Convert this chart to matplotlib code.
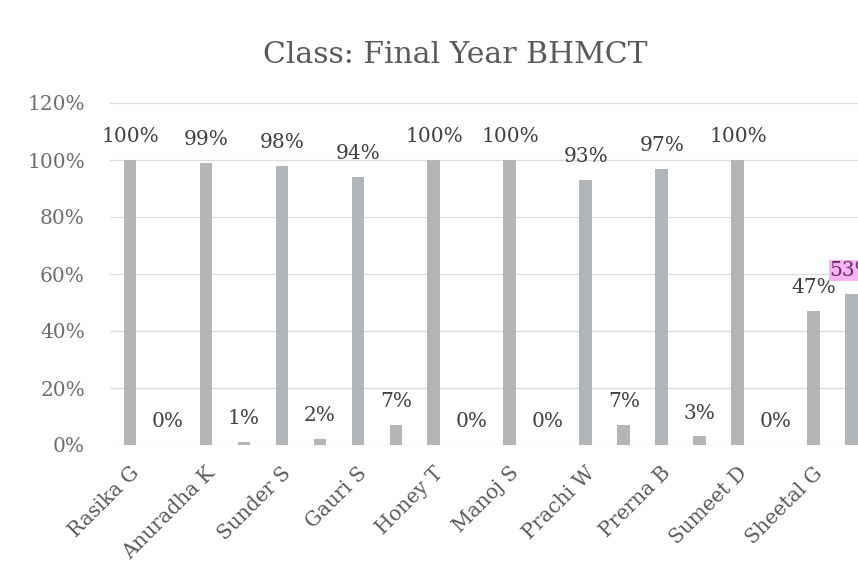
import matplotlib
matplotlib.use("Agg")
import matplotlib.pyplot as plt
import matplotlib.transforms as mtransforms
import numpy as np

# ---- data ----
students = ["Rasika G", "Anuradha K", "Sunder S", "Gauri S", "Honey T",
            "Manoj S", "Prachi W", "Prerna B", "Sumeet D", "Sheetal G"]
series_a = [100, 99, 98, 94, 100, 100, 93, 97, 100, 47]   # first bar of each pair (%)
series_b = [0, 1, 2, 7, 0, 0, 7, 3, 0, 53]                # second bar of each pair (%)
y_ticks = [0, 20, 40, 60, 80, 100, 120]
title = "Class: Final Year BHMCT"
highlight_label = (9, "b")  # label shown with pink highlight

plt.rcParams['font.family'] = ['DejaVu Serif']

W, H = 858, 583
fig = plt.figure(figsize=(W / 100, H / 100), dpi=100)
fig.patch.set_facecolor("white")

ax_left, ax_right, ax_bottom, ax_top = 110, 858, 445, 103
ax = fig.add_axes([ax_left / W, 1 - ax_bottom / H,
                   (ax_right - ax_left) / W, (ax_bottom - ax_top) / H])

x = np.arange(len(students))
off = 0.25
bw = 0.17
bar_color = "#b3b6b9"
ax.bar(x - off, series_a, width=bw, color=bar_color, zorder=3)
ax.bar(x + off, series_b, width=bw, color=bar_color, zorder=3)

ax.set_ylim(0, 120)
ax.set_xlim(-0.513, 9.33)
ax.set_yticks(y_ticks)
ax.set_yticklabels([f"{v}%" for v in y_ticks])
ax.yaxis.grid(True, color="#dcdcdc", lw=0.9, zorder=0)
ax.set_axisbelow(True)
for s in ax.spines.values():
    s.set_visible(False)
ax.tick_params(axis="y", length=0, pad=18, labelsize=14.5, labelcolor="#6e6e6e")

ax.set_xticks(x)
ax.set_xticklabels(students, rotation=45, ha="right", va="center",
                   rotation_mode="anchor", fontsize=14.5, color="#595959")
ax.tick_params(axis="x", length=0, pad=18)
shift = mtransforms.ScaledTranslation(-13 / 100, 0, fig.dpi_scale_trans)
for lbl in ax.get_xticklabels():
    lbl.set_transform(lbl.get_transform() + shift)

# data labels
for i in range(len(students)):
    ax.annotate(f"{series_a[i]}%", (x[i] - off, series_a[i]), xytext=(0, 10),
                textcoords="offset points", ha="center", va="bottom",
                fontsize=14.5, color="#404040", zorder=4)
    if highlight_label == (i, "b"):
        ax.annotate(f"{series_b[i]}%", (x[i] + off, series_b[i]), xytext=(0, 10),
                    textcoords="offset points", ha="center", va="bottom",
                    fontsize=14.5, color="#6a2a6a", zorder=4, annotation_clip=False,
                    bbox=dict(boxstyle="square,pad=0.05", fc="#f6b4f3", ec="none"))
    else:
        ax.annotate(f"{series_b[i]}%", (x[i] + off, series_b[i]), xytext=(0, 10),
                    textcoords="offset points", ha="center", va="bottom",
                    fontsize=14.5, color="#404040", zorder=4)

fig.text(455 / W, 1 - 63 / H, title, ha="center", va="baseline",
         fontsize=21.5, color="#595959")

fig.savefig("out.png", dpi=100)
